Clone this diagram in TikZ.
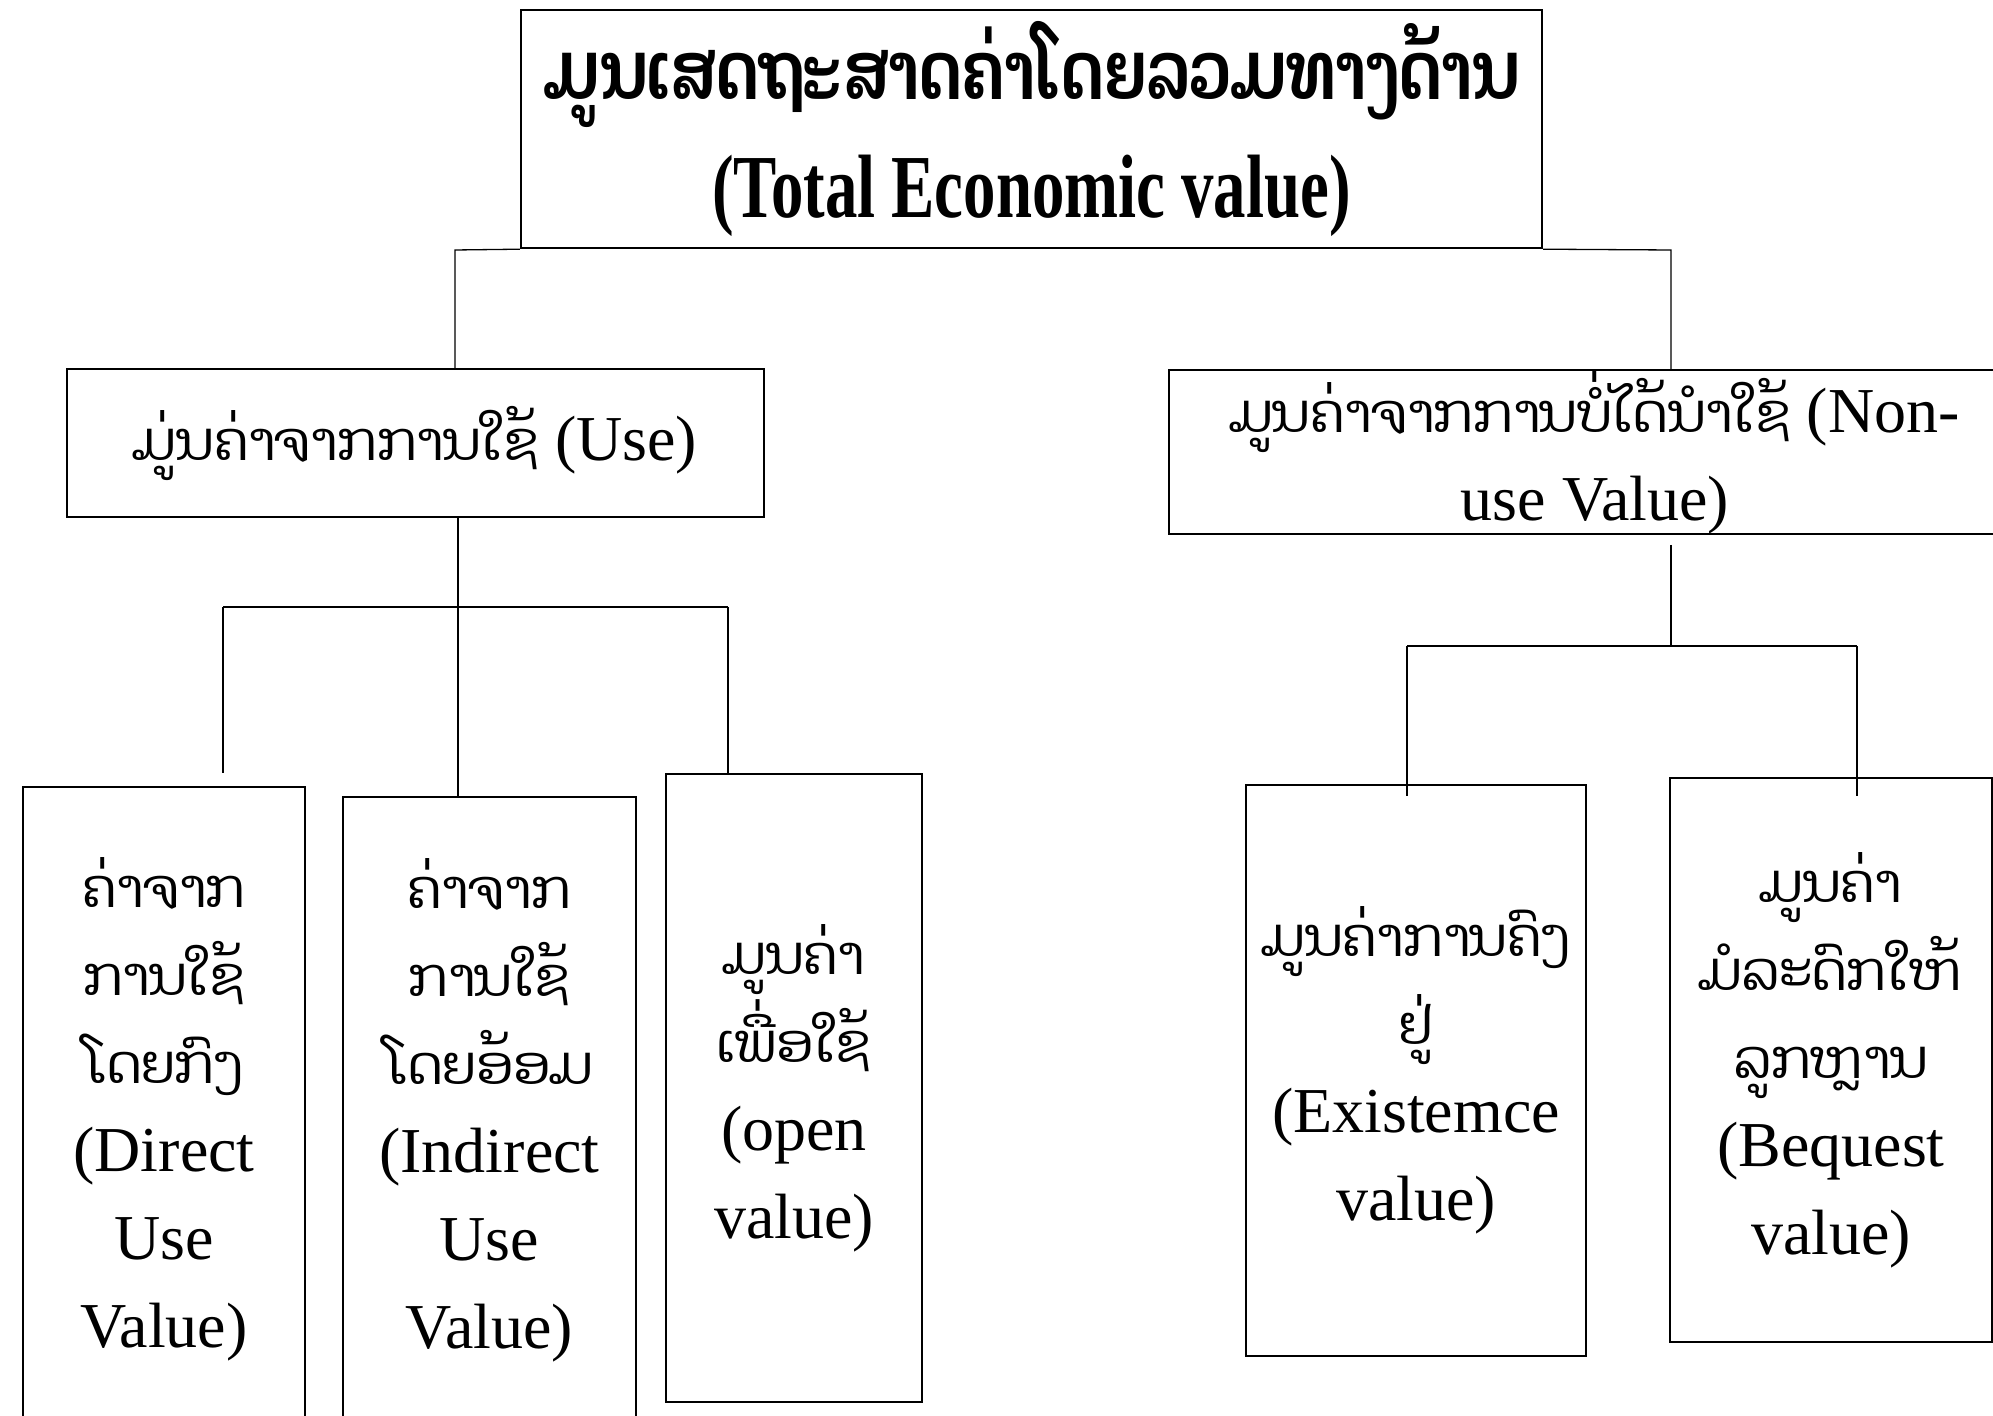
\documentclass[tikz,border=0pt]{standalone}
\usepackage{fontspec}
\setmainfont{Liberation Serif}
\newfontfamily\laofont[Script=Lao,Scale=0.84]{Dhyana}
\newfontfamily\titlelatin[FakeStretch=0.72]{Liberation Serif}
\newfontfamily\titlelao[Script=Lao,Scale=0.9,FakeStretch=0.8]{Dhyana}
\newcommand\lo[1]{{\laofont #1}}
\begin{document}
\begin{tikzpicture}[x=0.5pt,y=-0.5pt,
  box/.style={draw, line width=1.2pt, rectangle, inner sep=0pt, align=center,
    font=\fontsize{32}{44}\selectfont},
  link/.style={line width=0.65pt}]
\useasboundingbox (0,0) rectangle (1993,1416);
\fill[white] (0,0) rectangle (1993,1416);

\node[box, minimum width=510.5pt, minimum height=119pt,
  font=\fontsize{45}{56}\selectfont\bfseries] (top) at (1031.5,129)
  {{\titlelao\bfseries ມູນເສດຖະສາດຄ່າໂດຍລວມທາງດ້ານ}\\[3pt]{\titlelatin\bfseries (Total Economic value)}};

\node[box, minimum width=348.5pt, minimum height=74pt] (use) at (415.5,443)
  {\lo{ມູ່ນຄ່າຈາກການໃຊ້} (Use)};
\node[box, minimum width=426pt, minimum height=82pt] (nonuse) at (1595,452)
  {\lo{ມູນຄ່າຈາກການບໍ່ໄດ້ນຳໃຊ້} (Non-\\use Value)};

\node[box, minimum width=141pt, minimum height=322pt] (direct) at (164,1109)
  {\lo{ຄ່າຈາກ}\\\lo{ການໃຊ້}\\\lo{ໂດຍກົງ}\\(Direct\\Use\\Value)};
\node[box, minimum width=146.5pt, minimum height=313pt] (indirect) at (489.5,1110)
  {\lo{ຄ່າຈາກ}\\\lo{ການໃຊ້}\\\lo{ໂດຍອ້ອມ}\\(Indirect\\Use\\Value)};
\node[box, minimum width=128pt, minimum height=314pt] (open) at (794,1088)
  {\lo{ມູນຄ່າ}\\\lo{ເພື່ອໃຊ້}\\(open\\value)};
\node[box, minimum width=170pt, minimum height=285.5pt] (exist) at (1416,1070.5)
  {\lo{ມູນຄ່າການຄົງ}\\\lo{ຢູ່}\\(Existemce\\value)};
\node[box, minimum width=161pt, minimum height=282pt] (bequest) at (1831,1060)
  {\lo{ມູນຄ່າ}\\\lo{ມໍລະດົກໃຫ້}\\\lo{ລູກຫຼານ}\\(Bequest\\value)};

% top level connectors
\coordinate (t1) at (455,250);
\coordinate (t2) at (1671,250);
\draw[link] (top.south west) -- (t1) -- (t1 |- use.north);
\draw[link] (top.south east) -- (t2) -- (t2 |- nonuse.north);

% use branch
\coordinate (u0) at (458,607);
\coordinate (u1) at (223,607);
\coordinate (u2) at (728,607);
\draw[link] (u0 |- use.south) -- (u0 |- indirect.north);
\draw[link] (u1) -- (u2);
\draw[link] (u1) -- (223,773);
\draw[link] (u2) -- (u2 |- open.north);

% non-use branch
\coordinate (n0) at (1671,646);
\coordinate (n1) at (1407,646);
\coordinate (n2) at (1857,646);
\draw[link] (1671,545) -- (n0);
\draw[link] (n1) -- (n2);
\draw[link] (n1) -- (1407,796);
\draw[link] (n2) -- (1857,796);
\end{tikzpicture}
\end{document}
